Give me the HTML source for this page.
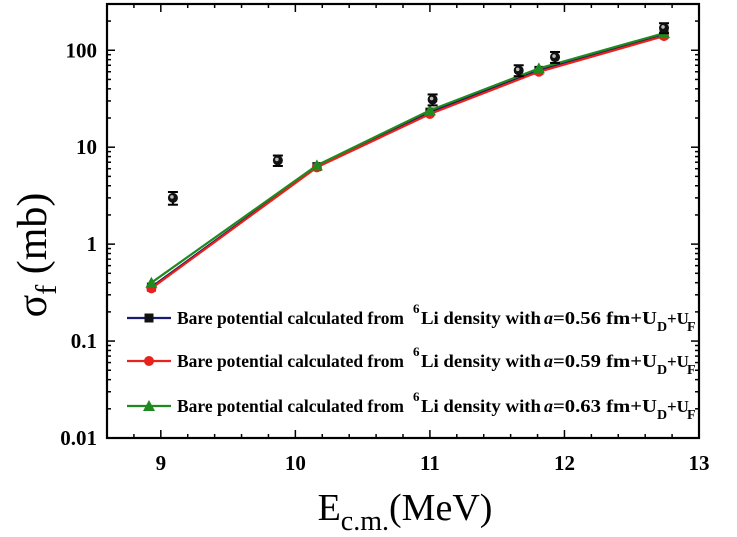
<!DOCTYPE html>
<html><head><meta charset="utf-8"><style>
html,body{margin:0;padding:0;background:#fff;}
svg{display:block;font-family:"Liberation Serif",serif;}
</style></head><body>
<svg id="chart" width="737" height="537" viewBox="0 0 737 537" xmlns="http://www.w3.org/2000/svg">
<g id="plot"></g>
</svg>
<script>
const xTicks=[9,10,11,12,13];
const yTicks=[0.01,0.1,1,10,100];
const yTickLabels=["0.01","0.1","1","10","100"];
const theoryE=[8.93,10.16,11.0,11.81,12.74];
const sigma056=[0.36,6.3,23,62,145];
const sigma059=[0.35,6.2,22,60,140];
const sigma063=[0.4,6.5,24,65,150];
const expE=[9.09,9.87,11.02,11.66,11.93,12.74];
const expSigma=[3.0,7.3,31,62,85,170];
const expErr=[0.45,0.9,4,8,11,20];

const L=107,R=699,T=4,B=438;
const xMin=8.6,xMax=13,yMin=0.01,yMax=300;
const X=v=>L+(v-xMin)/(xMax-xMin)*(R-L);
const Y=v=>B-(Math.log10(v)-Math.log10(yMin))/(Math.log10(yMax)-Math.log10(yMin))*(B-T);
const NS="http://www.w3.org/2000/svg";
const g=document.getElementById('plot');
function mk(tag,attrs,parent){const e=document.createElementNS(NS,tag);for(const k in attrs)e.setAttribute(k,attrs[k]);(parent||g).appendChild(e);return e;}

let fr=mk('rect',{x:L,y:T,width:R-L,height:B-T,fill:'none',stroke:'#000','stroke-width':2.2});



for(let v=8.6;v<=13.001;v+=0.2){
  const major=Math.abs(v-Math.round(v))<1e-6;
  const len=major?8:4;const x=X(v);
  mk('line',{x1:x,y1:B,x2:x,y2:B-len,stroke:'#000','stroke-width':1.5});
  mk('line',{x1:x,y1:T,x2:x,y2:T+len,stroke:'#000','stroke-width':1.5});
}
xTicks.forEach(v=>{
  const t=mk('text',{x:X(v),y:B+32,'text-anchor':'middle','font-size':21,'font-weight':'bold'});
  t.textContent=v;
  
  
});
for(let d=-2;d<=2;d++){
  for(let m=1;m<=9;m++){
    const v=m*Math.pow(10,d); if(v>yMax)break;
    const len=m===1?8:4;const y=Y(v);
    mk('line',{x1:L,y1:y,x2:L+len,y2:y,stroke:'#000','stroke-width':1.5});
    mk('line',{x1:R,y1:y,x2:R-len,y2:y,stroke:'#000','stroke-width':1.5});
  }
}
yTicks.forEach((v,i)=>{
  const t=mk('text',{x:L-10,y:Y(v)+7,'text-anchor':'end','font-size':21,'font-weight':'bold'});
  t.textContent=yTickLabels[i];
  
  
});

function series(vals,color,marker,name){
  const pts=theoryE.map((e,i)=>X(e)+','+Y(vals[i])).join(' ');
  const pl=mk('polyline',{points:pts,fill:'none',stroke:color,'stroke-width':2.2});
  
  
  theoryE.forEach((e,i)=>drawMarker(X(e),Y(vals[i]),color,marker,name));
}
function drawMarker(x,y,color,marker,name){
  let m;
  if(marker==='square')m=mk('rect',{x:x-4.5,y:y-4.5,width:9,height:9,fill:'#111'});
  else if(marker==='circle')m=mk('circle',{cx:x,cy:y,r:5,fill:color});
  else m=mk('polygon',{points:`${x},${y-6} ${x-6},${y+5} ${x+6},${y+5}`,fill:color});
  
  
}
series(sigma056,'#1a1a6e','square','a056');
series(sigma059,'#e8221c','circle','a059');
series(sigma063,'#1f8a1f','triangle','a063');

expE.forEach((e,i)=>{
  const x=X(e),y=Y(expSigma[i]);
  const y1=Y(expSigma[i]+expErr[i]),y2=Y(expSigma[i]-expErr[i]);
  mk('line',{x1:x,y1:y1,x2:x,y2:y2,stroke:'#000','stroke-width':2});
  mk('line',{x1:x-5,y1:y1,x2:x+5,y2:y1,stroke:'#000','stroke-width':2});
  mk('line',{x1:x-5,y1:y2,x2:x+5,y2:y2,stroke:'#000','stroke-width':2});
  const c=mk('circle',{cx:x,cy:y,r:5,fill:'#111'});
  
  
  mk('circle',{cx:x-1,cy:y-1,r:1.8,fill:'#bbb'});
});

const legendLabels=["0.56","0.59","0.63"];
const legendColors=['#1a1a6e','#e8221c','#1f8a1f'];
const legendMarkers=['square','circle','triangle'];
const legendY=[318,361,406];
legendLabels.forEach((lab,i)=>{
  const y=legendY[i];
  const gl=mk('g',{});
  
  
  mk('line',{x1:127,y1:y,x2:171,y2:y,stroke:legendColors[i],'stroke-width':2.2},gl);
  drawMarker(149,y,legendColors[i],legendMarkers[i],'legend');
  const t=mk('text',{x:177,y:y+6,'font-size':18,'font-weight':'bold'},gl);
  t.innerHTML=`<tspan x="177" textLength="227" lengthAdjust="spacingAndGlyphs">Bare potential calculated from</tspan><tspan x="413" dy="-11" font-size="13">6</tspan><tspan x="421" dy="11" textLength="120" lengthAdjust="spacingAndGlyphs">Li density with</tspan><tspan x="544" font-style="italic">a</tspan><tspan x="553" textLength="104" lengthAdjust="spacingAndGlyphs">=${lab} fm+U</tspan><tspan x="657" dy="7" font-size="14">D</tspan><tspan x="667" dy="-7" font-size="17">+U</tspan><tspan x="687" dy="7" font-size="14">F</tspan>`;
});

const yt=mk('text',{transform:'translate(46,255) rotate(-90)','text-anchor':'middle','font-size':42});
yt.innerHTML='<tspan>σ</tspan><tspan dy="10" font-size="30">f</tspan><tspan dy="-10"> (mb)</tspan>';


const xt=mk('text',{x:405,y:520,'text-anchor':'middle','font-size':38});
xt.innerHTML='<tspan>E</tspan><tspan dy="10" font-size="28">c.m.</tspan><tspan dy="-10">(MeV)</tspan>';


</script>
</body></html>
